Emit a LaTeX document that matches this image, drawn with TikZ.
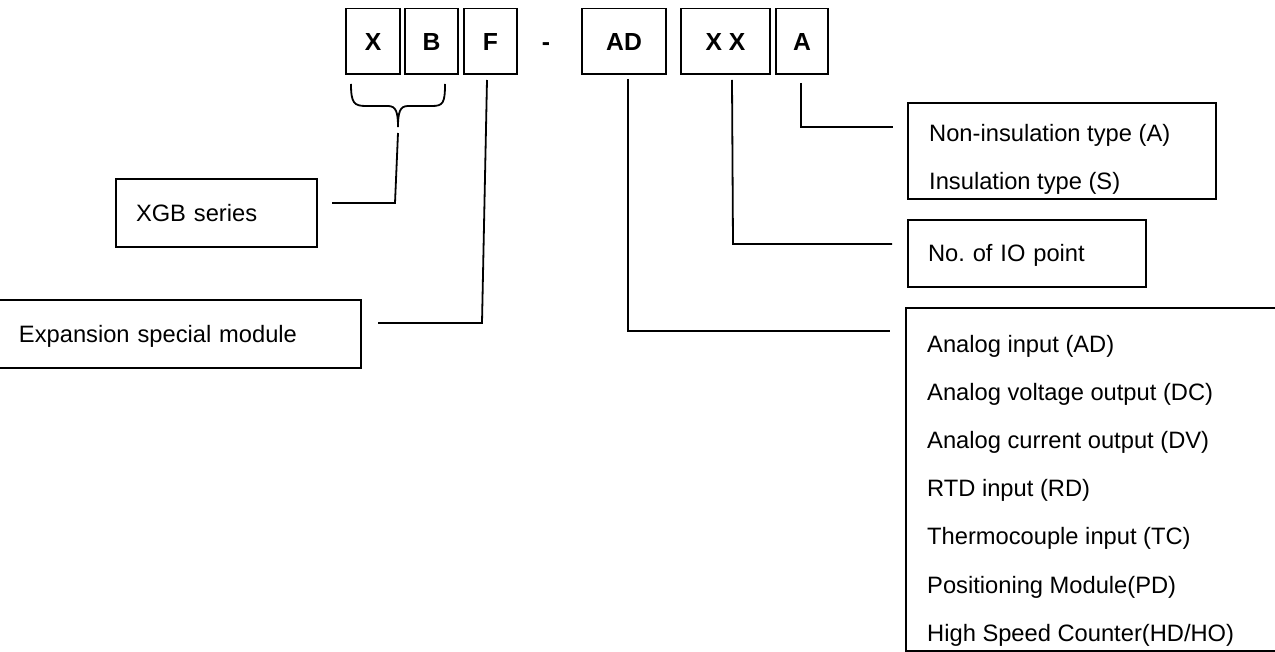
\documentclass[tikz,border=0pt]{standalone}
\usepackage{fontspec}
\setmainfont{Liberation Sans}
\usepackage{tikz}
\frenchspacing

\begin{document}
\begin{tikzpicture}[x=1pt,y=-1pt,
    letter/.style={draw,line width=1.8pt,minimum height=65.5pt,inner sep=0pt,
        text height=17.7pt,text depth=0pt,font=\fontsize{24.7}{30}\selectfont\bfseries},
    box/.style={draw,line width=1.8pt,inner sep=0pt},
    note/.style={box,align=left,inner xsep=20pt,inner ysep=0pt,
        text height=17pt,text depth=0pt,font=\fontsize{23.7}{28}\selectfont},
    txt/.style={anchor=base west,inner sep=0pt,font=\fontsize{23.7}{28}\selectfont},
    wire/.style={line width=1.8pt}]
    \useasboundingbox (0,0) rectangle (1275,652);
    \clip (0,0) rectangle (1275,652);
    \node[letter,minimum width=54pt] (X) at (373,41.25) {X};
    \node[letter,minimum width=53pt] (B) at (431.5,41.25) {B};
    \node[letter,minimum width=53pt] (F) at (490.5,41.25) {F};
    \node[letter,draw=none] (dash) at (546,41.25) {-};
    \node[letter,minimum width=84pt] (AD) at (624,41.25) {AD};
    \node[letter,minimum width=89pt] (XX) at (725.5,41.25) {X X};
    \node[letter,minimum width=52pt] (A) at (802,41.25) {A};
    \node[note,text width=161pt,minimum height=68pt] (series) at (216.5,213) {XGB series};
    \node[note,text width=322pt,minimum height=68pt] (module) at (180,334) {Expansion special module};
    \node[note,text width=198pt,minimum height=67pt] (points) at (1027,253.5) {No. of IO point};
    \node[box,minimum width=308pt,minimum height=96pt] (insul) at (1062,151) {};
    \node[txt] (insulA) at (929,142) {Non-insulation type (A)};
    \node[txt] (insulS) at (929,190) {Insulation type (S)};
    \node[box,minimum width=384pt,minimum height=343pt] (kind) at (1098,479.5) {};
    \node[txt] (kindAD) at (927,352.5) {Analog input (AD)};
    \node[txt] (kindDC) at (927,400.6) {Analog voltage output (DC)};
    \node[txt] (kindDV) at (927,448.7) {Analog current output (DV)};
    \node[txt] (kindRD) at (927,496.8) {RTD input (RD)};
    \node[txt] (kindTC) at (927,544.9) {Thermocouple input (TC)};
    \node[txt] (kindPD) at (927,593) {Positioning Module(PD)};
    \node[txt] (kindHD) at (927,641.1) {High Speed Counter(HD/HO)};
    \draw[wire] (351,84) .. controls (351,103) and (354,106) .. (366,106) -- (388,106)
        .. controls (396,106) and (398,112) .. (398,127)
        .. controls (398,112) and (400,106) .. (408,106) -- (432,106)
        .. controls (443,106) and (445,103) .. (445,84);
    \coordinate (seriesT) at (398,133);
    \coordinate (seriesB) at (395,203);
    \coordinate (seriesE) at (332,203);
    \coordinate (moduleT) at (487,80);
    \coordinate (moduleB) at (482,323);
    \coordinate (moduleE) at (378,323);
    \coordinate (kindT) at (628,79);
    \coordinate (kindB) at (628,331);
    \coordinate (kindE) at (890,331);
    \coordinate (pointsT) at (732,80);
    \coordinate (pointsB) at (733,244);
    \coordinate (pointsE) at (892,244);
    \coordinate (insulT) at (801,83);
    \coordinate (insulB) at (801,127);
    \coordinate (insulE) at (893,127);
    \draw[wire] (seriesT) -- (seriesB) -- (seriesE);
    \draw[wire] (moduleT) -- (moduleB) -- (moduleE);
    \draw[wire] (kindT) -- (kindB) -- (kindE);
    \draw[wire] (pointsT) -- (pointsB) -- (pointsE);
    \draw[wire] (insulT) -- (insulB) -- (insulE);
\end{tikzpicture}
\end{document}
